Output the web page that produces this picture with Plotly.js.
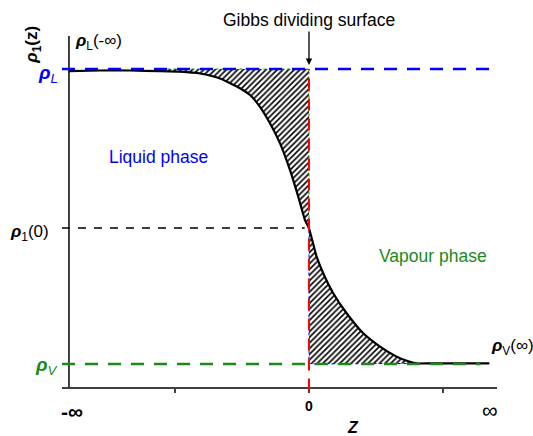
<!DOCTYPE html>
<html>
<head>
<meta charset="utf-8">
<script src="https://cdn.plot.ly/plotly-3.0.1.min.js"></script>
<style>html,body{margin:0;padding:0;background:#fff;}#chart{width:533px;height:436px;}</style>
</head>
<body>
<div id="chart"></div>
<script>
// Density profile rho1(z) across the interface (z = 0 is the Gibbs dividing surface)
const zValues = [-1.791, -1.560, -1.336, -1.112, -0.963, -0.813, -0.664, -0.515, -0.440, -0.366, -0.291, -0.216, -0.142, -0.080, -0.030, 0.000, 0.057, 0.107, 0.181, 0.281, 0.405, 0.530, 0.654, 0.730, 0.804, 0.900, 1.100, 1.346];
const rhoValues = [0.993, 0.995, 0.995, 0.993, 0.991, 0.985, 0.968, 0.935, 0.912, 0.872, 0.816, 0.748, 0.658, 0.567, 0.488, 0.460, 0.364, 0.307, 0.240, 0.172, 0.104, 0.059, 0.025, 0.011, 0.002, 0.002, 0.002, 0.002];
const rhoL = 1.0;       // liquid bulk density
const rhoV = 0.0;       // vapour bulk density
const rho0 = 0.461;     // density at the dividing surface
const xTickVals = [-1, 0, 1];
const xTickText = ['-∞', '0', '∞'];
const zLeftLimit = -1.112;   // where the liquid-side excess region starts
const zRightLimit = 0.804;   // where the vapour-side excess region ends

const blue = '#0000ff';
const green = '#1a8a1a';

// liquid-side hatched region: between curve and rhoL, z in [zLeftLimit, 0]
const leftX = [], leftY = [];
zValues.forEach((z, i) => { if (z >= zLeftLimit && z <= 0) { leftX.push(z); leftY.push(rhoValues[i]); } });
leftX.push(0); leftY.push(rhoL);
leftX.push(leftX[0]); leftY.push(rhoL);
leftX.push(leftX[0]); leftY.push(leftY[0]);

// vapour-side hatched region: between curve and rhoV, z in [0, zRightLimit]
const rightX = [], rightY = [];
zValues.forEach((z, i) => { if (z >= 0 && z <= zRightLimit) { rightX.push(z); rightY.push(rhoValues[i]); } });
rightX.push(0); rightY.push(rhoV);
rightX.push(rightX[0]); rightY.push(rightY[0]);

const pattern = {shape: '/', fgcolor: 'black', bgcolor: 'white', size: 4, solidity: 0.4};

const traces = [
  {x: leftX, y: leftY, type: 'scatter', mode: 'lines', fill: 'toself', fillcolor: 'white',
   fillpattern: pattern, line: {color: green, width: 1, dash: 'dot'}, hoverinfo: 'skip'},
  {x: rightX, y: rightY, type: 'scatter', mode: 'lines', fill: 'toself', fillcolor: 'white',
   fillpattern: pattern, line: {color: blue, width: 1, dash: 'dot'}, hoverinfo: 'skip'},
  {x: zValues, y: rhoValues, type: 'scatter', mode: 'lines', line: {color: 'black', width: 2.2, shape: 'spline', smoothing: 0.5}}
];

const xLeft = -1.843, xRight = 1.403;
const yBottom = -0.078, yTop = 1.112;
const yAxisX = zValues[0];

const shapes = [
  // y axis line
  {type: 'line', xref: 'x', yref: 'paper', x0: yAxisX, x1: yAxisX, y0: 0, y1: 1, line: {color: 'black', width: 1.5}},
  // rho_L level
  {type: 'line', xref: 'paper', yref: 'y', x0: 0, x1: 1, y0: rhoL, y1: rhoL, line: {color: blue, width: 2.6, dash: '13px,10px'}},
  // rho_V level
  {type: 'line', xref: 'paper', yref: 'y', x0: 0, x1: 0.962, y0: rhoV, y1: rhoV, line: {color: green, width: 2.6, dash: '13px,10px'}},
  // rho1(0) level
  {type: 'line', xref: 'paper', yref: 'y', x0: 0, x1: 0.558, y0: rho0, y1: rho0, line: {color: 'black', width: 1.3, dash: '8px,8px'}},
  // Gibbs dividing surface
  {type: 'line', xref: 'x', yref: 'paper', x0: 0, x1: 0, y0: -0.01, y1: (rhoL - yBottom) / (yTop - yBottom), line: {color: 'red', width: 2, dash: '12px,8px'}}
];

const f = 'Liberation Sans, Arial, sans-serif';
const ann = (text, x, y, opts) => Object.assign({text: text, x: x, y: y, xref: 'paper', yref: 'paper', showarrow: false,
  xanchor: 'center', yanchor: 'middle', font: {family: f, size: 17, color: 'black'}}, opts || {});

const annotations = [
  {text: 'Gibbs dividing surface', x: 0, y: rhoL, xref: 'x', yref: 'y', showarrow: true, ax: 0, ay: -49,
   arrowhead: 2, arrowsize: 1, arrowwidth: 1.3, arrowcolor: 'black', standoff: 4, font: {family: f, size: 17.5, color: 'black'}},
  ann('<b><i>ρ</i><sub>1</sub>(z)</b>', -0.067, 0.975, {textangle: -90, font: {family: f, size: 17, color: 'black'}}),
  ann('<b><i>ρ</i></b><sub>L</sub>(-∞)', 0.085, 0.983),
  ann('<b><i>ρ</i></b><i><sub>L</sub></i>', -0.032, 0.892, {font: {family: f, size: 19, color: blue}}),
  ann('<b><i>ρ</i></b><sub>1</sub>(0)', -0.0736, 0.4387),
  ann('<b><i>ρ</i></b><i><sub>V</sub></i>', -0.0345, 0.0598, {font: {family: f, size: 19, color: green}}),
  ann('<b><i>ρ</i></b><sub>V</sub>(∞)', 1.0345, 0.114),
  ann('Liquid phase', 0.2207, 0.655, {font: {family: f, size: 17.5, color: blue}}),
  ann('Vapour phase', 0.853, 0.373, {font: {family: f, size: 17.5, color: green}}),
  ann('<b>' + xTickText[0] + '</b>', 0.023, -0.071, {font: {family: f, size: 21, color: 'black'}}),
  ann('<b>' + xTickText[1] + '</b>', 0.568, -0.054, {font: {family: f, size: 14, color: 'black'}}),
  ann(xTickText[2], 0.984, -0.068, {font: {family: f, size: 22, color: 'black'}}),
  ann('<b><i>Z</i></b>', 0.669, -0.115, {font: {family: f, size: 16, color: 'black'}})
];

const layout = {
  width: 533, height: 436,
  margin: {l: 62, r: 36, t: 36, b: 49, pad: 0},
  paper_bgcolor: 'white', plot_bgcolor: 'white',
  showlegend: false,
  xaxis: {range: [xLeft, xRight], showgrid: false, zeroline: false, showline: true, linecolor: '#404040', linewidth: 1.5,
          ticks: 'outside', ticklen: 4, tickwidth: 1.3, tickcolor: '#404040', tickvals: xTickVals, showticklabels: false, fixedrange: true},
  yaxis: {range: [yBottom, yTop], visible: false, showgrid: false, zeroline: false, fixedrange: true},
  shapes: shapes,
  annotations: annotations
};

Plotly.newPlot('chart', traces, layout, {displayModeBar: false, staticPlot: true});
</script>
</body>
</html>
